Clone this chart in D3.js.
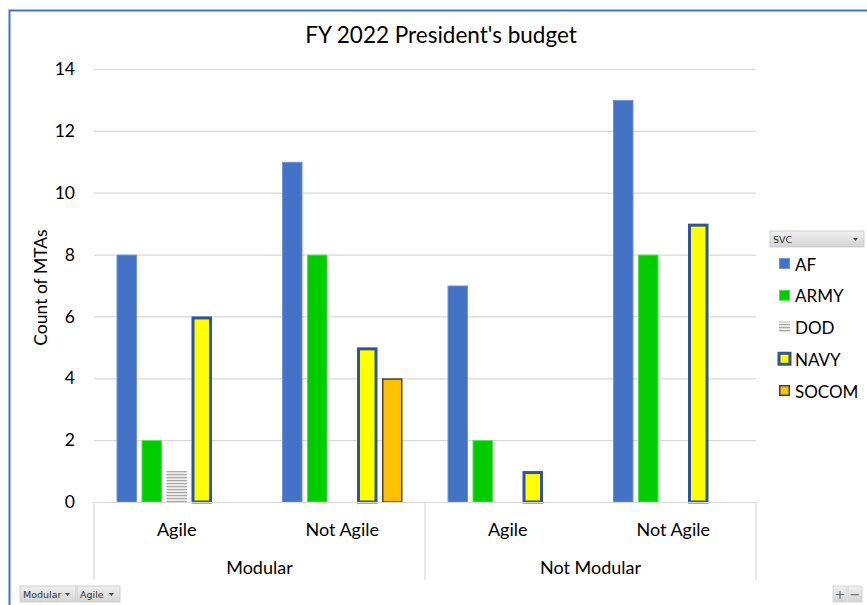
<!DOCTYPE html>
<html>
<head>
<meta charset="utf-8">
<script src="https://cdn.jsdelivr.net/npm/d3@7"></script>
<style>
  html, body { margin: 0; padding: 0; background: #fff; }
  svg { display: block; font-family: Lato, "Open Sans", sans-serif; }
</style>
</head>
<body>
<svg id="chart" width="867" height="605"></svg>
<script>
// Pivot chart: count of MTAs by modularity, agility and service
const outerGroups = ["Modular", "Not Modular"];
const innerGroups = ["Agile", "Not Agile"];
const services = ["AF", "ARMY", "DOD", "NAVY", "SOCOM"];

// Counts per service, ordered: Modular/Agile, Modular/Not Agile, Not Modular/Agile, Not Modular/Not Agile
const afCounts    = [8, 11, 7, 13];
const armyCounts  = [2, 8, 2, 8];
const dodCounts   = [1, null, null, null];
const navyCounts  = [6, 5, 1, 9];
const socomCounts = [null, 4, null, null];

const yTicks = [0, 2, 4, 6, 8, 10, 12, 14];

const seriesValues = {
  AF: afCounts, ARMY: armyCounts, DOD: dodCounts, NAVY: navyCounts, SOCOM: socomCounts
};

const styles = {
  AF:    { fill: "#4472C4", stroke: "#6F93D6", sw: 1 },
  ARMY:  { fill: "#00CC00", stroke: "#55DD55", sw: 1 },
  DOD:   { fill: "url(#dodStripes)", stroke: "none", sw: 0 },
  NAVY:  { fill: "#FFFF00", stroke: "#2F5597", sw: 3 },
  SOCOM: { fill: "#FFC000", stroke: "#404040", sw: 1.5 }
};

// Flattened category list (outer × inner)
const cats = [];
outerGroups.forEach(o => innerGroups.forEach(i => cats.push({ outer: o, inner: i, key: o + "|" + i })));

const svg = d3.select("#chart");
const defs = svg.append("defs");

// Striped fill for DOD
const pat = defs.append("pattern").attr("id", "dodStripes")
  .attr("patternUnits", "userSpaceOnUse").attr("width", 6).attr("height", 3);
pat.append("rect").attr("width", 6).attr("height", 3).attr("fill", "#eeeeee");
pat.append("rect").attr("y", 0).attr("width", 6).attr("height", 1.2).attr("fill", "#a6a6a6");

const btnGrad = defs.append("linearGradient").attr("id", "btnGrad")
  .attr("x1", 0).attr("y1", 0).attr("x2", 0).attr("y2", 1);
btnGrad.append("stop").attr("offset", "0%").attr("stop-color", "#f0f0f0");
btnGrad.append("stop").attr("offset", "100%").attr("stop-color", "#d4d4d4");

// Frame border
svg.append("path").attr("d", "M9.5,605 L9.5,10.5 L867,10.5")
  .attr("fill", "none").attr("stroke", "#4472C4").attr("stroke-width", 2);

const plot = { left: 94, right: 756, top: 69, bottom: 502 };

const y = d3.scaleLinear().domain([0, 14]).range([plot.bottom, plot.top]);
const x0 = d3.scaleBand().domain(cats.map(c => c.key)).range([plot.left, plot.right]).padding(0);
const x1 = d3.scaleBand().domain(services).range([0, x0.bandwidth()])
  .paddingInner(0.18).paddingOuter(0.9);
const xOuter = d3.scaleBand().domain(outerGroups).range([plot.left, plot.right]).padding(0);

// Gridlines
svg.append("g").attr("transform", `translate(${plot.left},0)`)
  .call(d3.axisLeft(y).tickValues(yTicks).tickSize(-(plot.right - plot.left)).tickFormat(""))
  .call(g => g.select(".domain").remove())
  .call(g => g.selectAll("line").attr("stroke", "#d9d9d9").attr("stroke-width", 1.2));

// Y tick labels
svg.append("g").attr("transform", `translate(${plot.left},0)`)
  .call(d3.axisLeft(y).tickValues(yTicks).tickSize(0).tickPadding(19))
  .call(g => g.select(".domain").remove())
  .call(g => g.selectAll("text").attr("font-family", "Lato, sans-serif")
    .attr("font-size", 17.5).attr("fill", "#000"));

// Y axis title
svg.append("text")
  .attr("transform", `translate(47,${(plot.top + plot.bottom) / 2 + 2}) rotate(-90)`)
  .attr("text-anchor", "middle").attr("font-size", 17.5).attr("fill", "#000")
  .text("Count of MTAs");

// Title
svg.append("text").attr("x", 441).attr("y", 43).attr("text-anchor", "middle")
  .attr("font-size", 22.5).attr("fill", "#000").text("FY 2022 President's budget");

// Bars
const barData = [];
cats.forEach((c, ci) => services.forEach(s => {
  const v = seriesValues[s][ci];
  if (v != null) barData.push({ cat: c.key, s, v });
}));

svg.append("g").selectAll("rect").data(barData).join("rect")
  .attr("x", d => x0(d.cat) + x1(d.s) + styles[d.s].sw / 2)
  .attr("y", d => y(d.v) + styles[d.s].sw / 2)
  .attr("width", d => x1.bandwidth() - styles[d.s].sw)
  .attr("height", d => y(0) - y(d.v) - styles[d.s].sw / 2)
  .attr("fill", d => styles[d.s].fill)
  .attr("stroke", d => styles[d.s].stroke)
  .attr("stroke-width", d => styles[d.s].sw);

// Category axis: baseline and group separators
const axisG = svg.append("g");
axisG.append("line").attr("x1", plot.left).attr("x2", plot.right)
  .attr("y1", plot.bottom + 0.5).attr("y2", plot.bottom + 0.5)
  .attr("stroke", "#d9d9d9").attr("stroke-width", 1.2);
const seps = [plot.left].concat(outerGroups.map(o => xOuter(o) + xOuter.bandwidth()));
axisG.selectAll("line.sep").data(seps).join("line").attr("class", "sep")
  .attr("x1", d => d).attr("x2", d => d)
  .attr("y1", plot.bottom).attr("y2", 580)
  .attr("stroke", "#d9d9d9").attr("stroke-width", 1.2);

axisG.selectAll("text.inner").data(cats).join("text").attr("class", "inner")
  .attr("x", d => x0(d.key) + x0.bandwidth() / 2).attr("y", 536)
  .attr("text-anchor", "middle").attr("font-size", 18).attr("fill", "#000")
  .text(d => d.inner);

axisG.selectAll("text.outer").data(outerGroups).join("text").attr("class", "outer")
  .attr("x", d => xOuter(d) + xOuter.bandwidth() / 2).attr("y", 574)
  .attr("text-anchor", "middle").attr("font-size", 18).attr("fill", "#000")
  .text(d => d);

// Pivot field button helper
function fieldButton(g, x, yTop, w, label) {
  const b = g.append("g").attr("transform", `translate(${x},${yTop})`);
  b.append("rect").attr("width", w).attr("height", 16).attr("fill", "url(#btnGrad)")
    .attr("stroke", "#c8c8c8").attr("stroke-width", 0.8);
  b.append("text").attr("x", 3).attr("y", 12).attr("font-family", "'DejaVu Sans', sans-serif")
    .attr("font-size", 9.5).attr("fill", "#333").text(label);
  b.append("path").attr("d", `M${w - 11},7 l5,0 l-2.5,3 z`).attr("fill", "#444");
}

// Legend
const legend = svg.append("g");
fieldButton(legend, 770, 231, 94, "SVC");
const legY = d3.scalePoint().domain(services).range([264, 391]);
services.forEach(s => {
  const gy = legY(s);
  const st = styles[s];
  const sz = s === "NAVY" ? 14 : 11;
  const off = s === "NAVY" ? 1.5 : 0;
  legend.append("rect")
    .attr("x", 779 + st.sw / 2 - off)
    .attr("y", gy - 6 + st.sw / 2 - off)
    .attr("width", sz - st.sw).attr("height", sz - st.sw)
    .attr("fill", st.fill).attr("stroke", st.stroke).attr("stroke-width", st.sw);
  legend.append("text").attr("x", 795).attr("y", gy + 6.5)
    .attr("font-size", 17).attr("fill", "#000").text(s);
});

// Bottom field buttons and zoom controls
const bottom = svg.append("g");
fieldButton(bottom, 20, 586, 56, "Modular");
fieldButton(bottom, 77, 586, 43, "Agile");
[["+", 833], ["\u2212", 848]].forEach(([t, bx]) => {
  const b = bottom.append("g").attr("transform", `translate(${bx},586)`);
  b.append("rect").attr("width", 14).attr("height", 16).attr("fill", "url(#btnGrad)")
    .attr("stroke", "#d0d0d0").attr("stroke-width", 0.8);
  b.append("text").attr("x", 7).attr("y", 13).attr("text-anchor", "middle")
    .attr("font-family", "'DejaVu Sans', sans-serif").attr("font-size", 13)
    .attr("fill", "#666").text(t);
});
</script>
</body>
</html>
